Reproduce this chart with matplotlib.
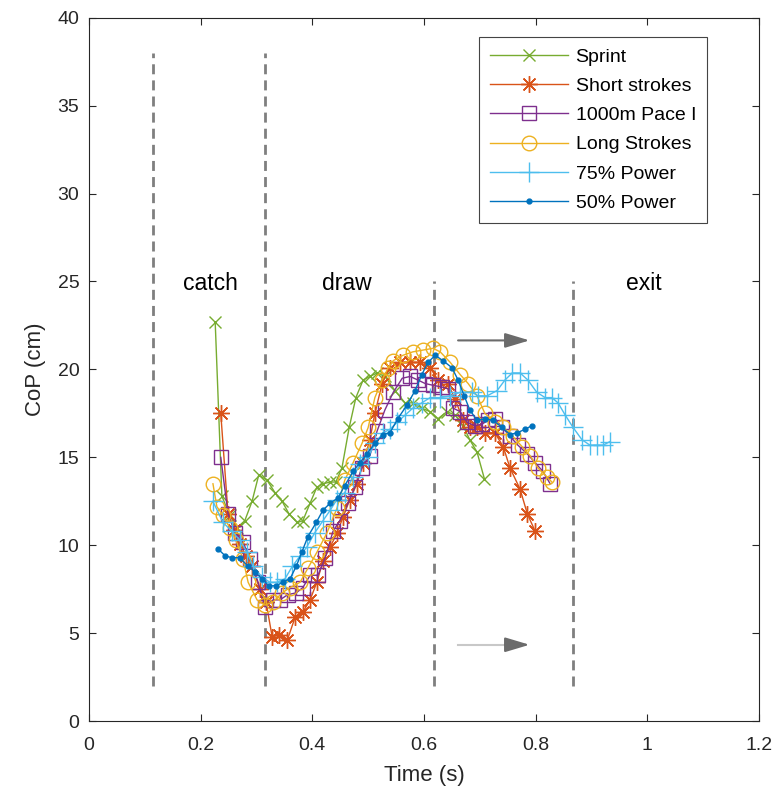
import matplotlib
matplotlib.use("Agg")
import matplotlib.pyplot as plt

plt.rcParams['font.family'] = ['Liberation Sans', 'DejaVu Sans']

# ---------------- data ----------------
sprint_t = [0.226,0.238,0.252,0.265,0.279,0.292,0.304,0.319,0.333,0.346,0.358,0.373,0.383,0.396,0.408,0.419,0.432,0.442,0.453,0.466,0.478,0.491,0.503,0.516,0.530,0.548,0.566,0.580,0.596,0.611,0.625,0.641,0.656,0.670,0.682,0.695,0.708]
sprint_v = [22.7,12.8,11.7,11.0,11.4,12.5,14.0,13.7,13.0,12.5,11.8,11.3,11.4,12.4,13.3,13.5,13.6,13.6,14.4,16.7,18.4,19.4,19.6,19.8,19.6,18.8,18.1,18.1,17.8,17.6,17.2,17.6,17.4,16.8,16.0,15.3,13.8]

short_t = [0.236,0.249,0.260,0.270,0.281,0.292,0.306,0.317,0.328,0.340,0.355,0.369,0.383,0.396,0.408,0.419,0.432,0.444,0.455,0.467,0.480,0.491,0.503,0.512,0.525,0.539,0.557,0.575,0.593,0.611,0.625,0.643,0.656,0.670,0.682,0.695,0.709,0.727,0.742,0.754,0.772,0.785,0.799]
short_v = [17.5,11.8,10.9,10.1,9.4,8.8,7.5,6.8,4.8,4.9,4.6,5.9,6.2,6.9,7.9,9.1,9.9,10.7,11.6,12.6,13.5,14.7,16.0,17.5,19.2,20.1,20.4,20.4,20.4,20.1,19.4,19.2,18.3,17.1,16.7,16.7,16.4,16.4,15.6,14.4,13.2,11.8,10.8]

pace_t = [0.236,0.249,0.262,0.276,0.288,0.303,0.315,0.330,0.342,0.356,0.371,0.383,0.396,0.410,0.423,0.437,0.449,0.464,0.476,0.489,0.503,0.516,0.530,0.545,0.561,0.575,0.589,0.602,0.616,0.632,0.643,0.652,0.665,0.677,0.691,0.704,0.715,0.727,0.740,0.754,0.768,0.785,0.799,0.813,0.826]
pace_v = [15.0,11.8,10.7,10.2,9.2,7.9,6.5,6.9,6.9,7.2,7.3,7.6,8.3,8.3,9.3,10.8,11.4,12.4,13.3,14.4,15.1,16.5,17.7,18.7,19.5,19.6,19.4,19.2,19.1,19.0,18.9,17.8,17.6,17.0,16.8,16.9,17.1,17.2,16.7,16.2,15.7,15.2,14.7,14.2,13.5]

long_t = [0.222,0.229,0.240,0.252,0.263,0.276,0.285,0.301,0.315,0.330,0.346,0.360,0.378,0.392,0.408,0.426,0.444,0.458,0.473,0.489,0.500,0.512,0.525,0.536,0.545,0.562,0.580,0.598,0.616,0.629,0.647,0.665,0.679,0.695,0.709,0.727,0.742,0.759,0.776,0.790,0.804,0.820,0.829]
long_v = [13.5,12.2,11.7,11.0,10.3,9.2,7.9,6.9,6.6,6.8,7.3,7.6,7.9,8.7,9.6,10.7,12.1,13.7,14.7,15.8,16.7,18.4,19.4,20.1,20.5,20.8,21.0,21.1,21.2,21.0,20.4,19.7,19.2,18.5,17.5,17.0,16.7,16.2,15.6,15.1,14.4,13.9,13.6]

p75_t = [0.222,0.240,0.256,0.270,0.283,0.294,0.310,0.324,0.336,0.351,0.364,0.378,0.390,0.404,0.419,0.432,0.444,0.458,0.473,0.485,0.500,0.512,0.527,0.539,0.552,0.566,0.580,0.596,0.611,0.629,0.647,0.665,0.686,0.697,0.713,0.731,0.745,0.758,0.772,0.786,0.802,0.817,0.829,0.840,0.853,0.867,0.883,0.897,0.910,0.921,0.933]
p75_v = [12.5,11.3,10.8,10.3,9.6,8.8,8.2,7.9,7.9,8.1,8.8,9.4,9.9,10.7,11.4,12.0,12.6,13.0,13.9,14.6,15.0,15.8,16.4,16.6,17.0,17.4,17.8,18.1,18.4,18.4,18.5,18.7,18.7,18.5,18.5,18.8,19.4,19.8,19.8,19.4,18.7,18.4,18.4,18.1,17.4,16.7,16.0,15.7,15.7,15.7,15.9]

p50_t = [0.231,0.244,0.256,0.270,0.285,0.297,0.310,0.322,0.335,0.347,0.360,0.371,0.381,0.392,0.407,0.419,0.432,0.446,0.458,0.473,0.485,0.498,0.512,0.527,0.539,0.553,0.570,0.584,0.596,0.607,0.620,0.634,0.650,0.661,0.672,0.682,0.695,0.709,0.724,0.740,0.754,0.767,0.781,0.793]
p50_v = [9.8,9.4,9.3,9.3,8.8,8.5,8.1,7.7,7.7,7.9,8.1,8.8,9.6,10.5,11.3,12.0,12.4,12.7,13.4,14.2,14.7,15.2,15.8,16.3,16.4,17.2,18.0,18.8,19.7,20.4,20.8,20.5,20.1,19.4,18.5,17.7,17.1,17.2,17.1,16.7,16.3,16.4,16.6,16.8]

phase_lines = [0.115, 0.315, 0.617, 0.867]
phase_tops = [38, 38, 25, 25]
phase_names = ["catch", "draw", "exit"]
phase_label_x = [0.217, 0.462, 0.993]

# ---------------- figure ----------------
fig = plt.figure(figsize=(7.78, 8.0), dpi=100)
ax = fig.add_axes([0.1144, 0.0984, 0.9756 - 0.1144, 0.978 - 0.0984])

c_green = '#77AC30'
c_orange = '#D95319'
c_purple = '#7E2F8E'
c_yellow = '#EDB120'
c_light = '#4DBEEE'
c_blue = '#0072BD'

for x, top in zip(phase_lines, phase_tops):
    ax.plot([x, x], [2, top], color='#7f7f7f', lw=2, dashes=(3.6, 2.2), zorder=1)

ax.plot(sprint_t, sprint_v, color=c_green, lw=1, marker='x', ms=8.5, mew=1, label='Sprint', zorder=3)
ax.plot(short_t, short_v, color=c_orange, lw=1, marker=(8, 2, 0), ms=12, mew=1, label='Short strokes', zorder=3)
ax.plot(pace_t, pace_v, color=c_purple, lw=1, marker='s', ms=9.5, mew=1, mfc='none', label='1000m Pace I', zorder=3)
ax.plot(long_t, long_v, color=c_yellow, lw=1, marker='o', ms=10.5, mew=1, mfc='none', label='Long Strokes', zorder=3)
ax.plot(p75_t, p75_v, color=c_light, lw=1, marker='+', ms=14, mew=1, label='75% Power', zorder=3)
ax.plot(p50_t, p50_v, color=c_blue, lw=1, marker='.', ms=7, label='50% Power', zorder=3)

for name, x in zip(phase_names, phase_label_x):
    ax.text(x, 24.9, name, ha='center', va='center', fontsize=16.5, color='#000000')

# arrows
ax.annotate('', xy=(0.789, 21.65), xytext=(0.661, 21.65),
            arrowprops=dict(arrowstyle='-|>,head_length=1.5,head_width=0.45',
                            color='#6b6b6b', lw=1.5, shrinkA=0, shrinkB=0))
ax.plot([0.661, 0.75], [4.35, 4.35], color='#c8c8c8', lw=1.5, zorder=2)
ax.annotate('', xy=(0.789, 4.35), xytext=(0.745, 4.35),
            arrowprops=dict(arrowstyle='-|>,head_length=1.5,head_width=0.45',
                            color='#6b6b6b', lw=1.5, shrinkA=0, shrinkB=0))

ax.set_xlim(0, 1.2)
ax.set_ylim(0, 40)
ax.set_xticks([0, 0.2, 0.4, 0.6, 0.8, 1.0, 1.2])
ax.set_xticklabels(['0', '0.2', '0.4', '0.6', '0.8', '1', '1.2'])
ax.set_yticks(range(0, 41, 5))
ax.tick_params(direction='in', top=True, right=True, length=5, width=0.8,
               labelsize=14, colors='#262626', pad=7)
ax.tick_params(axis='x', pad=11)
for s in ax.spines.values():
    s.set_color('#262626')
    s.set_linewidth(0.8)
ax.set_xlabel('Time (s)', fontsize=16, color='#262626', labelpad=8)
ax.set_ylabel('CoP (cm)', fontsize=16, color='#262626', labelpad=8)

leg = ax.legend(loc='upper right', bbox_to_anchor=(0.922, 0.972), fontsize=14,
                handlelength=4.0, labelspacing=0.6, borderpad=0.55, borderaxespad=0,
                fancybox=False, framealpha=1, edgecolor='#444444', handletextpad=0.4)
leg.get_frame().set_linewidth(0.8)

fig.savefig('out.png', dpi=100)
